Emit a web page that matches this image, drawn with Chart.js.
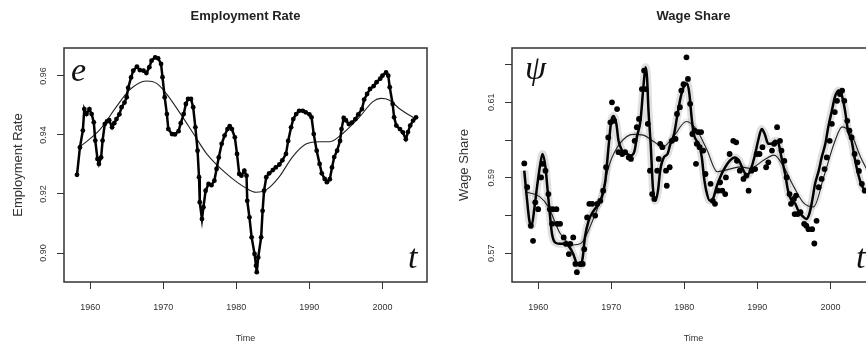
<!DOCTYPE html>
<html><head><meta charset="utf-8">
<script src="https://cdn.jsdelivr.net/npm/chart.js@4.4.1/dist/chart.umd.min.js"></script>
<style>
html,body{margin:0;padding:0;background:#fff;overflow:hidden;width:866px;height:348px;position:relative}
#c1{position:absolute;left:0;top:0}
#c2{position:absolute;left:433px;top:0}
</style></head><body>
<canvas id="c1" width="433" height="348"></canvas>
<canvas id="c2" width="450" height="348"></canvas>
<script>
// ---------- tick labels ----------
const xTickValues = [1960, 1970, 1980, 1990, 2000];
const empTickValues = [0.90, 0.92, 0.94, 0.96];
const wageTickValues = [0.57, 0.58, 0.59, 0.60, 0.61, 0.62];
const wageTickLabels = ['0.57', '', '0.59', '', '0.61', ''];

// ---------- Employment rate (quarterly observations) ----------
const empTime = [1958.2,1958.6,1959.0,1959.2,1959.5,1959.9,1960.2,1960.5,1960.7,1961.0,1961.2,1961.5,1961.7,1962.0,1962.3,1962.6,1963.0,1963.3,1963.6,1964.0,1964.3,1964.7,1965.0,1965.2,1965.6,1965.9,1966.4,1966.8,1967.3,1967.7,1968.1,1968.4,1968.9,1969.3,1969.7,1969.9,1970.2,1970.5,1970.7,1971.2,1971.6,1972.1,1972.4,1972.8,1973.1,1973.4,1973.8,1974.1,1974.4,1974.7,1974.9,1975.0,1975.3,1975.5,1975.8,1976.2,1976.6,1977.0,1977.3,1977.6,1978.0,1978.4,1978.8,1979.1,1979.4,1979.8,1980.1,1980.4,1980.7,1981.1,1981.4,1981.5,1981.8,1982.1,1982.5,1982.7,1982.8,1983.0,1983.4,1983.6,1983.8,1984.1,1984.5,1985.0,1985.4,1985.9,1986.3,1986.8,1987.1,1987.5,1987.8,1988.2,1988.6,1989.1,1989.5,1990.0,1990.3,1990.6,1991.0,1991.4,1991.7,1992.1,1992.4,1992.8,1993.1,1993.4,1993.8,1994.2,1994.4,1994.7,1995.0,1995.4,1995.8,1996.3,1996.7,1997.2,1997.5,1997.9,1998.3,1998.8,1999.2,1999.7,2000.0,2000.5,2000.8,2001.0,2001.4,2001.6,2001.9,2002.4,2002.8,2003.2,2003.5,2003.8,2004.2,2004.6];
const empRate = [0.9265,0.9358,0.9415,0.9488,0.9471,0.9488,0.9471,0.9443,0.9381,0.9319,0.9302,0.9324,0.9381,0.9437,0.9446,0.9450,0.9426,0.9440,0.9454,0.9470,0.9494,0.9510,0.9528,0.9560,0.9595,0.9618,0.9632,0.9620,0.9618,0.9610,0.9630,0.9652,0.9663,0.9660,0.9641,0.9596,0.9528,0.9471,0.9420,0.9403,0.9402,0.9413,0.9440,0.9471,0.9505,0.9522,0.9522,0.9494,0.9426,0.9347,0.9257,0.9172,0.9115,0.9155,0.9211,0.9234,0.9230,0.9245,0.9285,0.9324,0.9370,0.9398,0.9420,0.9430,0.9420,0.9392,0.9336,0.9268,0.9262,0.9279,0.9262,0.9177,0.9121,0.9053,0.8997,0.8957,0.8935,0.8985,0.9053,0.9143,0.9211,0.9257,0.9270,0.9281,0.9290,0.9300,0.9314,0.9336,0.9380,0.9426,0.9454,0.9471,0.9482,0.9482,0.9477,0.9470,0.9460,0.9403,0.9347,0.9302,0.9270,0.9251,0.9240,0.9250,0.9290,0.9325,0.9347,0.9380,0.9420,0.9458,0.9450,0.9437,0.9442,0.9454,0.9470,0.9488,0.9520,0.9539,0.9556,0.9566,0.9579,0.9591,0.9601,0.9612,0.9601,0.9562,0.9505,0.9460,0.9432,0.9420,0.9409,0.9386,0.9410,0.9432,0.9449,0.9460];

// ---------- Employment rate trend ----------
const empTrendTime = [1958.6,1961.3,1963.6,1965.4,1967.7,1969.1,1970.4,1972.3,1974.1,1975.9,1978.6,1981.4,1982.7,1984.1,1985.9,1987.7,1989.6,1991.4,1992.8,1994.6,1996.9,1998.7,1999.8,2000.9,2002.3,2004.6];
const empTrend = [0.9360,0.9417,0.9496,0.9553,0.9583,0.9575,0.9541,0.9474,0.9406,0.9338,0.9270,0.9219,0.9206,0.9214,0.9259,0.9326,0.9370,0.9377,0.9377,0.9406,0.9462,0.9513,0.9524,0.9519,0.9490,0.9453];

// ---------- Wage share observations ----------
const wageTime = [1958.1,1958.5,1959.0,1959.3,1959.6,1960.0,1960.4,1960.6,1961.0,1961.4,1961.6,1961.9,1962.0,1962.5,1962.6,1963.0,1963.5,1963.8,1964.2,1964.4,1964.8,1965.1,1965.3,1965.8,1966.1,1966.3,1966.7,1967.0,1967.4,1967.8,1968.1,1968.5,1968.9,1969.3,1969.6,1969.9,1970.1,1970.4,1970.8,1971.0,1971.5,1971.9,1972.4,1972.7,1973.2,1973.5,1973.8,1974.2,1974.5,1974.7,1975.0,1975.3,1975.6,1975.9,1976.3,1976.5,1976.7,1977.0,1977.5,1977.6,1978.0,1978.3,1978.8,1979.0,1979.4,1979.6,1979.9,1980.3,1980.5,1980.8,1981.1,1981.4,1981.6,1981.7,1981.9,1982.1,1982.3,1982.6,1982.9,1983.6,1983.9,1984.2,1984.6,1984.9,1985.2,1985.6,1985.7,1986.2,1986.7,1987.1,1987.2,1987.6,1988.1,1988.5,1988.8,1989.2,1989.7,1989.9,1990.3,1990.7,1991.2,1991.5,1992.0,1992.3,1992.7,1993.1,1993.3,1993.7,1994.0,1994.4,1994.6,1995.0,1995.1,1995.3,1995.5,1995.9,1996.4,1996.7,1997.0,1997.5,1997.8,1998.1,1998.4,1998.8,1999.2,1999.5,1999.9,2000.2,2000.6,2000.9,2001.3,2001.6,2001.9,2002.3,2002.6,2002.9,2003.3,2003.7,2003.9,2004.3,2004.7];
const wageShare = [0.5938,0.5875,0.5773,0.5733,0.5835,0.5817,0.5901,0.5937,0.5919,0.5857,0.5817,0.5778,0.5817,0.5817,0.5778,0.5778,0.5742,0.5725,0.5698,0.5725,0.5742,0.5672,0.5650,0.5672,0.5672,0.5711,0.5795,0.5831,0.5831,0.5800,0.5831,0.5839,0.5866,0.5928,0.6007,0.6047,0.6100,0.6051,0.6082,0.5968,0.5963,0.5968,0.5954,0.5950,0.5998,0.6034,0.6056,0.6135,0.6184,0.6135,0.6043,0.5919,0.5857,0.5844,0.5919,0.5950,0.5990,0.5981,0.5919,0.5879,0.5928,0.5998,0.6003,0.6069,0.6087,0.6131,0.6148,0.6219,0.6162,0.6096,0.6016,0.6025,0.5937,0.5990,0.6021,0.5981,0.6021,0.5972,0.5910,0.5884,0.5839,0.5831,0.5866,0.5888,0.5866,0.5857,0.5901,0.5963,0.5998,0.5994,0.5945,0.5919,0.5897,0.5906,0.5866,0.5919,0.5923,0.5963,0.5963,0.5981,0.5928,0.5941,0.5972,0.5990,0.6034,0.5998,0.5972,0.5945,0.5901,0.5857,0.5831,0.5844,0.5804,0.5853,0.5804,0.5809,0.5778,0.5773,0.5764,0.5764,0.5726,0.5786,0.5875,0.5897,0.5923,0.5954,0.5998,0.6043,0.6074,0.6104,0.6122,0.6131,0.6104,0.6051,0.6025,0.6007,0.5963,0.5941,0.5918,0.5884,0.5866];

// ---------- Wage share smoothed (thick) ----------
const wageSmoothTime = [1958.1,1958.4,1958.8,1959.1,1959.5,1959.9,1960.3,1960.6,1961.0,1961.3,1961.6,1961.9,1962.3,1963.0,1963.7,1964.3,1964.8,1965.3,1965.8,1966.1,1966.4,1966.9,1967.6,1968.1,1968.7,1969.2,1969.5,1969.8,1970.0,1970.3,1970.7,1971.0,1971.5,1972.2,1972.7,1973.2,1973.5,1974.0,1974.4,1974.7,1974.9,1975.1,1975.4,1975.7,1976.0,1976.4,1976.7,1977.2,1977.7,1978.1,1978.6,1979.0,1979.5,1979.9,1980.4,1980.7,1981.0,1981.3,1981.7,1982.0,1982.4,1982.7,1983.0,1983.5,1984.0,1984.4,1984.9,1985.6,1986.2,1986.9,1987.5,1988.1,1988.6,1989.2,1989.7,1990.1,1990.6,1991.0,1991.5,1992.0,1992.4,1992.9,1993.3,1993.8,1994.2,1994.7,1995.2,1995.6,1996.1,1996.7,1997.1,1997.5,1997.9,1998.4,1998.8,1999.3,1999.7,2000.2,2000.6,2001.1,2001.5,2002.0,2002.4,2002.9,2003.3,2003.8,2004.2,2004.7];
const wageSmooth = [0.5919,0.5857,0.5786,0.5773,0.5822,0.5884,0.5937,0.5963,0.5928,0.5866,0.5804,0.5751,0.5729,0.5725,0.5725,0.5716,0.5698,0.5672,0.5667,0.5689,0.5742,0.5786,0.5813,0.5826,0.5848,0.5892,0.5954,0.6016,0.6050,0.6064,0.6043,0.5998,0.5972,0.5963,0.5959,0.5972,0.6007,0.6051,0.6140,0.6193,0.6166,0.6078,0.5990,0.5875,0.5839,0.5866,0.5919,0.5954,0.5963,0.5990,0.6016,0.6060,0.6113,0.6140,0.6150,0.6122,0.6060,0.6016,0.5998,0.5990,0.5954,0.5901,0.5866,0.5839,0.5848,0.5875,0.5901,0.5928,0.5945,0.5954,0.5945,0.5919,0.5906,0.5928,0.5963,0.5998,0.6029,0.6016,0.5990,0.5990,0.5998,0.5990,0.5954,0.5910,0.5866,0.5839,0.5831,0.5813,0.5800,0.5791,0.5804,0.5839,0.5884,0.5919,0.5954,0.5990,0.6034,0.6078,0.6113,0.6131,0.6122,0.6078,0.6025,0.5998,0.5954,0.5910,0.5884,0.5866];

// ---------- Wage share trend (thin) ----------
const wageTrendTime = [1958.2,1960.2,1961.4,1963.0,1964.8,1965.9,1967.1,1968.5,1969.8,1971.2,1973.0,1974.4,1975.8,1977.1,1978.5,1980.3,1981.7,1983.1,1984.5,1985.8,1987.7,1989.0,1990.9,1992.3,1993.6,1995.0,1996.4,1997.7,1999.1,2000.5,2001.6,2002.8,2004.1,2005.0];
const wageTrend = [0.5863,0.5850,0.5823,0.5753,0.5722,0.5727,0.5770,0.5841,0.5938,0.5991,0.6015,0.6013,0.5996,0.5982,0.6009,0.6049,0.6027,0.5974,0.5916,0.5921,0.5929,0.5925,0.5947,0.5960,0.5929,0.5876,0.5832,0.5823,0.5903,0.5991,0.6035,0.6018,0.5956,0.5921];

const pts = (xs, ys) => xs.map((x, i) => ({x, y: ys[i]}));

Chart.defaults.font.family = '"Liberation Sans", Arial, Helvetica, sans-serif';
Chart.defaults.color = '#222';

const boxPlugin = {
  id: 'rbox',
  afterDatasetsDraw(chart) {
    const {ctx, chartArea: a} = chart;
    ctx.save();
    ctx.strokeStyle = '#333';
    ctx.lineWidth = 1.5;
    ctx.strokeRect(a.left, a.top, a.right - a.left, a.bottom - a.top);
    ctx.restore();
  }
};
const letterPlugin = {
  id: 'letters',
  afterDraw(chart, args, opts) {
    const {ctx, chartArea: a} = chart;
    ctx.save();
    ctx.fillStyle = '#111';
    ctx.font = 'italic 34px "Liberation Serif", "DejaVu Serif", serif';
    ctx.textBaseline = 'alphabetic';
    (opts.items || []).forEach(it => {
      ctx.fillText(it.text, a.left + it.dx, it.fromBottom ? a.bottom - it.dy : a.top + it.dy);
    });
    ctx.restore();
  }
};

function xScale() {
  return {
    type: 'linear', min: 1956.42, max: 2006.1,
    afterBuildTicks: s => { s.ticks = xTickValues.map(v => ({value: v})); },
    afterFit: s => { s.height = 66; },
    grid: {display: true, drawOnChartArea: false, drawTicks: true, tickLength: 7, color: '#333', lineWidth: 1},
    border: {display: false},
    ticks: {font: {size: 9}, color: '#333', padding: 13, maxRotation: 0, autoSkip: false, callback: v => String(v)},
    title: {display: true, text: 'Time', font: {size: 9}, color: '#333', padding: {top: 0, bottom: 4}}
  };
}
function yScale(min, max, tickVals, labelFn, width, title, titlePad) {
  return {
    type: 'linear', min, max,
    afterBuildTicks: s => { s.ticks = tickVals.map(v => ({value: v})); },
    afterFit: s => { s.width = width; },
    grid: {display: true, drawOnChartArea: false, drawTicks: true, tickLength: 7, color: '#333', lineWidth: 1},
    border: {display: false},
    ticks: {font: {size: 9}, color: '#333', padding: 5, minRotation: 90, maxRotation: 90, crossAlign: 'center', autoSkip: false, callback: labelFn},
    title: {display: true, text: title, font: {size: 13}, color: '#333', padding: {top: titlePad, bottom: 0}}
  };
}
function commonPlugins(titleText, letters) {
  return {
    title: {display: true, text: titleText, fullSize: false, font: {size: 13, weight: 'bold'}, color: '#222', padding: {top: 8.2, bottom: 24.2}},
    legend: {display: false},
    tooltip: {enabled: false},
    letters: {items: letters}
  };
}

new Chart(document.getElementById('c1'), {
  type: 'scatter',
  data: {
    datasets: [
      {data: pts(empTime, empRate), showLine: true, borderColor: '#000', borderWidth: 2.5, pointRadius: 2.4, pointBackgroundColor: '#000', pointBorderWidth: 0, tension: 0, order: 0},
      {data: pts(empTrendTime, empTrend), showLine: true, borderColor: '#222', borderWidth: 1.1, pointRadius: 0, cubicInterpolationMode: 'monotone', order: 1}
    ]
  },
  options: {
    responsive: false, animation: false, devicePixelRatio: 1,
    layout: {padding: {left: 0, right: 6, top: 0, bottom: 0}},
    scales: {
      x: xScale(),
      y: yScale(0.89017, 0.96949, empTickValues, v => v.toFixed(2), 64, 'Employment Rate', 11)
    },
    plugins: commonPlugins('Employment Rate', [{text: 'e', dx: 7, dy: 33}, {text: 't', dx: 344, dy: 14, fromBottom: true}])
  },
  plugins: [boxPlugin, letterPlugin]
});

new Chart(document.getElementById('c2'), {
  type: 'scatter',
  data: {
    datasets: [
      {data: pts(wageTime, wageShare), showLine: false, pointRadius: 2.9, pointBackgroundColor: '#000', pointBorderWidth: 0, order: 0},
      {data: pts(wageSmoothTime, wageSmooth), showLine: true, borderColor: '#000', borderWidth: 2.5, pointRadius: 0, cubicInterpolationMode: 'monotone', order: 1},
      {data: pts(wageTrendTime, wageTrend), showLine: true, borderColor: '#222', borderWidth: 1.1, pointRadius: 0, cubicInterpolationMode: 'monotone', order: 2},
      {data: pts(wageSmoothTime, wageSmooth), showLine: true, borderColor: 'rgba(0,0,0,0.12)', borderWidth: 8, pointRadius: 0, cubicInterpolationMode: 'monotone', order: 3},
      {data: pts(wageTrendTime, wageTrend), showLine: true, borderColor: 'rgba(0,0,0,0.07)', borderWidth: 6, pointRadius: 0, cubicInterpolationMode: 'monotone', order: 4}
    ]
  },
  options: {
    responsive: false, animation: false, devicePixelRatio: 1,
    layout: {padding: {left: 0, right: 8, top: 0, bottom: 0}},
    scales: {
      x: xScale(),
      y: yScale(0.5624, 0.62438, wageTickValues, (v, i) => wageTickLabels[i], 79, 'Wage Share', 24)
    },
    plugins: commonPlugins('Wage Share', [{text: 'ψ', dx: 13, dy: 31}, {text: 't', dx: 344, dy: 14, fromBottom: true}])
  },
  plugins: [boxPlugin, letterPlugin]
});
</script>
</body></html>
